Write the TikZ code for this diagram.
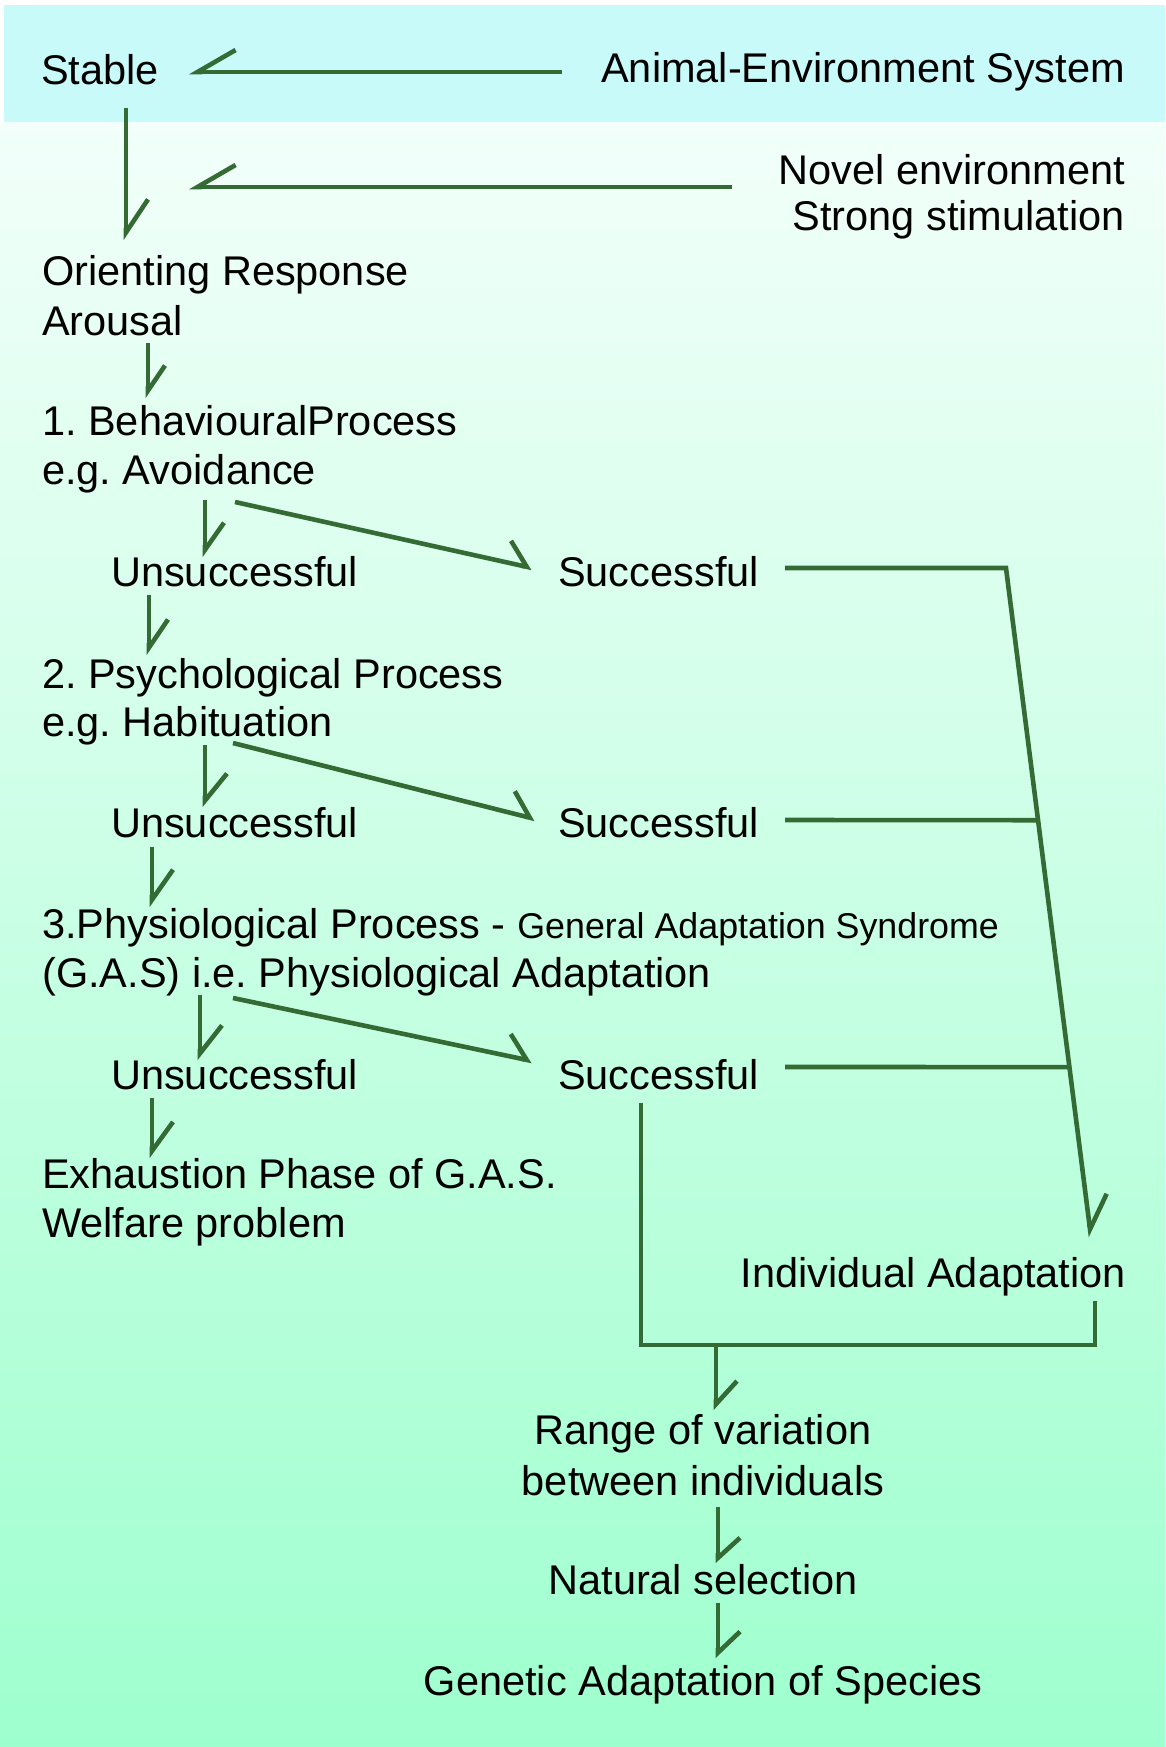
\documentclass[tikz,border=0pt]{standalone}
\usepackage{fontspec}
\setmainfont{Liberation Sans}
\usetikzlibrary{arrows.meta,calc}
\frenchspacing
\definecolor{lg}{RGB}{52,106,52}
\definecolor{band}{RGB}{200,250,250}
\definecolor{bgtop}{RGB}{242,255,250}
\definecolor{bgbot}{RGB}{158,255,206}
\tikzset{
  txt/.style={inner sep=0pt, font=\fontsize{41.5}{49}\selectfont\frenchspacing, text=black},
  ln/.style={draw=lg, line width=4.6pt, line join=miter},
  arr/.style n args={2}{draw=lg, line width=4.6pt, line join=miter, -{Straight Barb[harpoon,length=#1,width=#2]}},
  arrL/.style n args={2}{draw=lg, line width=4.6pt, -{Straight Barb[harpoon,swap,length=#1,width=#2]}},
}
\begin{document}
\begin{tikzpicture}[x=1pt,y=-1pt]
\useasboundingbox (0,0) rectangle (1165,1747);
% background
\fill[white] (0,0) rectangle (1165,1747);
\shade[top color=bgtop,bottom color=bgbot] (0,122) rectangle (1165,1747);
\fill[band] (4,5) rectangle (1165,122);

% texts
\node[txt,anchor=base west] (stable) at (41,85) {Stable};
\node[txt,anchor=base east] (aes) at (1125,83) {Animal-Environment System};
\node[txt,anchor=base east] (novel) at (1125,185) {Novel environment};
\node[txt,anchor=base east] (strong) at (1125,230) {Strong stimulation};
\node[txt,anchor=base west] (orient) at (42,285) {Orienting Response};
\node[txt,anchor=base west] (arousal) at (42,335) {Arousal};
\node[txt,anchor=base west] (beh) at (42,435) {1. BehaviouralProcess};
\node[txt,anchor=base west] (avoid) at (42,484) {e.g. Avoidance};
\node[txt,anchor=base west] (uns1) at (111,586) {Unsuccessful};
\node[txt,anchor=base west] (suc1) at (558,586) {Successful};
\node[txt,anchor=base west] (psych) at (42,688) {2. Psychological Process};
\node[txt,anchor=base west] (habit) at (42,736) {e.g. Habituation};
\node[txt,anchor=base west] (uns2) at (111,837) {Unsuccessful};
\node[txt,anchor=base west] (suc2) at (558,837) {Successful};
\node[txt,anchor=base west] (phys) at (42,938) {3.Physiological Process - {\fontsize{35.8}{49}\selectfont General Adaptation Syndrome}};
\node[txt,anchor=base west] (gas) at (42,987) {(G.A.S) i.e. Physiological Adaptation};
\node[txt,anchor=base west] (uns3) at (111,1089) {Unsuccessful};
\node[txt,anchor=base west] (suc3) at (558,1089) {Successful};
\node[txt,anchor=base west] (exh) at (42,1188) {Exhaustion Phase of G.A.S.};
\node[txt,anchor=base west] (welf) at (42,1237) {Welfare problem};
\node[txt,anchor=base east] (indad) at (1126,1287) {Individual Adaptation};
\node[txt,anchor=base] (range) at (703,1444) {Range of variation};
\node[txt,anchor=base] (between) at (703,1495) {between individuals};
\node[txt,anchor=base] (natural) at (703,1594) {Natural selection};
\node[txt,anchor=base] (genetic) at (703,1695) {Genetic Adaptation of Species};

% top arrows
\draw[arrL={38pt}{44pt}] ($(aes.base east)+(-563,-11)$) -- ($(stable.base west)+(148,-13)$);
\draw[arrL={38pt}{44pt}] ($(novel.base east)+(-393,2)$) -- ($(stable.base west)+(148,102)$);
\draw[arr={33pt}{44pt}] ($(stable.base west)+(85,23)$) -- ($(orient.base west)+(84,-45)$);
\draw[arr={25pt}{34pt}] ($(arousal.base west)+(106,8)$) -- ($(beh.base west)+(106,-37)$);
% stage 1
\draw[arr={27pt}{38pt}] ($(avoid.base west)+(163,16)$) -- ($(uns1.base west)+(94,-29)$);
\draw[arr={21pt}{44pt}] ($(avoid.base west)+(193,18)$) -- ($(suc1.base west)+(-26,-18)$);
\draw[arr={28pt}{38pt}] ($(uns1.base west)+(38,9)$) -- ($(psych.base west)+(107,-33)$);
% stage 2
\draw[arr={27pt}{44pt}] ($(habit.base west)+(163,9)$) -- ($(uns2.base west)+(94,-30)$);
\draw[arr={21pt}{44pt}] ($(habit.base west)+(191,7)$) -- ($(suc2.base west)+(-23,-18)$);
\draw[arr={30pt}{42pt}] ($(uns2.base west)+(41,10)$) -- ($(phys.base west)+(110,-31)$);
% stage 3
\draw[arr={28pt}{44pt}] ($(gas.base west)+(158,8)$) -- ($(uns3.base west)+(89,-29)$);
\draw[arr={21pt}{44pt}] ($(gas.base west)+(191,11)$) -- ($(suc3.base west)+(-26,-28)$);
\draw[arr={29pt}{42pt}] ($(uns3.base west)+(41,9)$) -- ($(exh.base west)+(110,-30)$);

% successful -> individual adaptation
\coordinate (corner) at ($(suc1.base west)+(448,-18)$);
\coordinate (iatip) at ($(indad.base east)+(-35,-50)$);
\draw[arr={33pt}{42pt}] ($(suc1.base west)+(227,-18)$) -- (corner) -- (iatip);
\draw[ln] ($(suc2.base west)+(227,-17)$) -- ($(corner)!0.377!(iatip)$);
\draw[ln] ($(suc3.base west)+(227,-22)$) -- ($(corner)!0.746!(iatip)$);

% bracket and lower chain
\coordinate (brk) at ($(range.base)+(13,-99)$);
\draw[ln] ($(suc3.base west)+(83,14)$) |- (brk) -| ($(indad.base east)+(-31,14)$);
\draw[arr={23pt}{42pt}] (brk) -- ($(range.base)+(13,-34)$);
\draw[arr={20pt}{44pt}] ($(between.base)+(15,12)$) -- ($(natural.base)+(15,-31)$);
\draw[arr={21pt}{44pt}] ($(natural.base)+(15,9)$) -- ($(genetic.base)+(15,-37)$);
\end{tikzpicture}
\end{document}
